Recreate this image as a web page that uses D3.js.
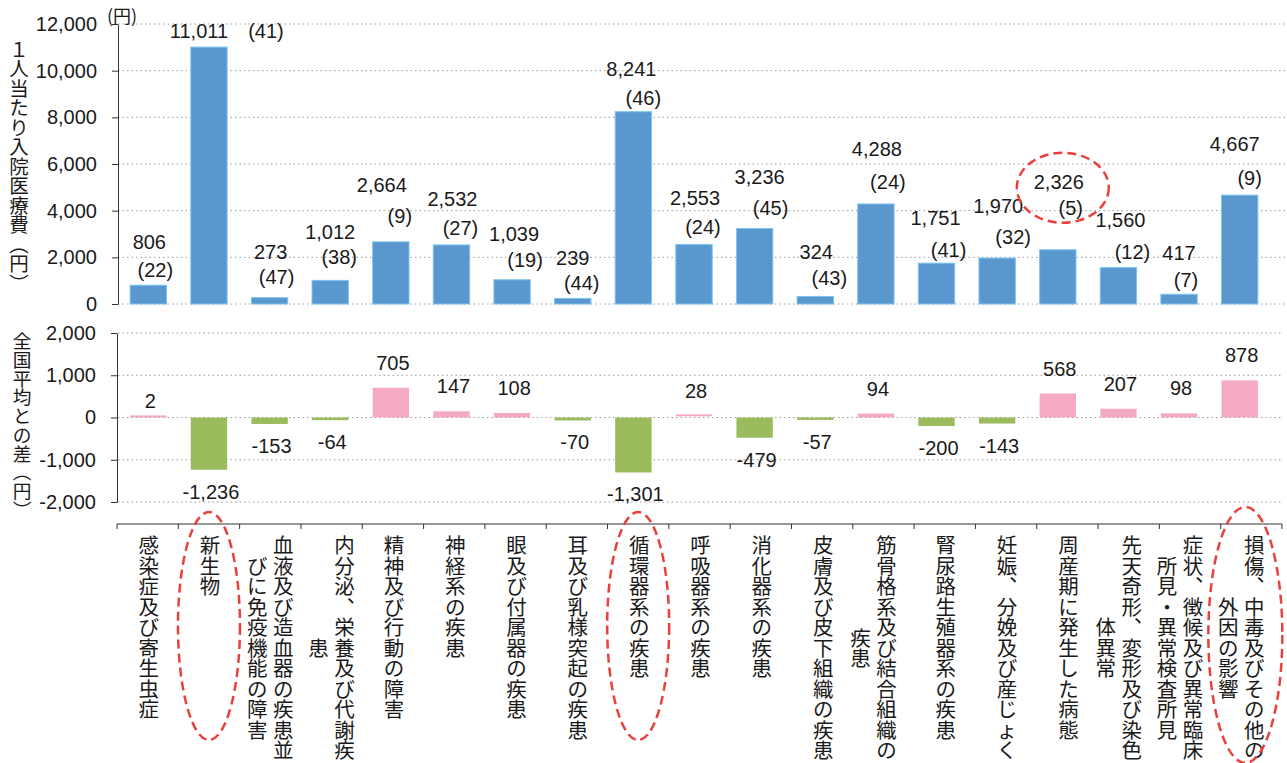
<!DOCTYPE html>
<html>
<head>
<meta charset="utf-8">
<script src="https://cdn.jsdelivr.net/npm/d3@7"></script>
<style>
	body { margin: 0; background: #fff; }
	text { font-family: "Liberation Sans", Arial, sans-serif; fill: #1a1a1a; }
	.jp text, text.jp { font-family: "Noto Sans CJK JP", sans-serif; }
</style>
</head>
<body>
<svg id="chart" width="1287" height="763"></svg>
<script>
var categories = [
	'感染症及び寄生虫症', '新生物', '血液及び造血器の疾患並びに免疫機能の障害',
	'内分泌、栄養及び代謝疾患', '精神及び行動の障害', '神経系の疾患', '眼及び付属器の疾患',
	'耳及び乳様突起の疾患', '循環器系の疾患', '呼吸器系の疾患', '消化器系の疾患',
	'皮膚及び皮下組織の疾患', '筋骨格系及び結合組織の疾患', '腎尿路生殖器系の疾患',
	'妊娠、分娩及び産じょく', '周産期に発生した病態', '先天奇形、変形及び染色体異常',
	'症状、徴候及び異常臨床所見・異常検査所見', '損傷、中毒及びその他の外因の影響'
];
var costPerPerson = [806, 11011, 273, 1012, 2664, 2532, 1039, 239, 8241, 2553, 3236, 324, 4288, 1751, 1970, 2326, 1560, 417, 4667];
var ranks = [22, 41, 47, 38, 9, 27, 19, 44, 46, 24, 45, 43, 24, 41, 32, 5, 12, 7, 9];
var diffFromNational = [2, -1236, -153, -64, 705, 147, 108, -70, -1301, 28, -479, -57, 94, -200, -143, 568, 207, 98, 878];
var topTicks = [0, 2000, 4000, 6000, 8000, 10000, 12000];
var bottomTicks = [-2000, -1000, 0, 1000, 2000];
var circledCategories = ['新生物', '循環器系の疾患', '損傷、中毒及びその他の外因の影響'];
var circledBar = '周産期に発生した病態';

// label nudges relative to bar top: [value dx, value dy, rank dx, rank dy]
var labelNudge = [
	[1,-43,7,-15], [-10,-16,57,-16], [1,-46,7,-21], [0,-48,9,-23], [-9,-57,9,-26],
	[1,-46,9,-17], [2,-46,13,-20], [0,-40,9,-15], [-2,-43,10,-14], [1,-46,9,-17],
	[5,-51,16,-20], [1,-44,14,-18], [1,-55,12,-22], [-1,-45,12,-13], [1,-52,16,-21],
	[1,-68,13,-42], [2,-48,14,-16], [0,-41,7,-14], [-5,-51,10,-17]
];

var svg = d3.select('#chart');
var fmt = function(v) { return d3.format(',')(v).replace('\u2212', '-'); };
var red = '#f03a30';

var xBar = d3.scaleBand().domain(categories).range([118, 1270]).paddingInner(0.4).paddingOuter(0.2);
var xCat = d3.scaleBand().domain(categories).range([117, 1282]);
var yTop = d3.scaleLinear().domain([0, 12000]).range([304, 24]);
var yBot = d3.scaleLinear().domain([-2000, 2000]).range([502, 333]);

// vertical (tategaki) text: one <text> per column, one tspan per glyph
var verticalForms = { '、': '\uFE11', '（': '\uFE35', '）': '\uFE36' };
function vtext(g, str, x, y, size) {
	var t = g.append('text')
		.attr('text-anchor', 'middle').attr('dominant-baseline', 'central')
		.style('font-size', size + 'px');
	Array.from(str).forEach(function(ch, k) {
		t.append('tspan')
			.attr('x', x).attr('y', y + (k + 0.5) * size)
			.text(verticalForms[ch] || ch);
	});
}

// gridlines
svg.append('g').selectAll('line').data(topTicks).enter().append('line')
	.attr('x1', 118).attr('x2', 1285)
	.attr('y1', function(d) { return yTop(d); }).attr('y2', function(d) { return yTop(d); })
	.attr('stroke', '#9a9a9a').attr('stroke-width', 1).attr('stroke-dasharray', '1.5,3');
svg.append('g').selectAll('line').data(bottomTicks).enter().append('line')
	.attr('x1', 118).attr('x2', 1282)
	.attr('y1', function(d) { return yBot(d); }).attr('y2', function(d) { return yBot(d); })
	.attr('stroke', '#9a9a9a').attr('stroke-width', 1).attr('stroke-dasharray', '1.5,3');

// top axis
var axTop = svg.append('g').attr('transform', 'translate(118,0)')
	.call(d3.axisLeft(yTop).tickValues(topTicks).tickFormat(fmt).tickSize(6).tickSizeOuter(0).tickPadding(15));
axTop.selectAll('text').style('font-size', '20px').attr('fill', '#1a1a1a');
axTop.selectAll('line, path').attr('stroke', '#333');

var axBot = svg.append('g').attr('transform', 'translate(117,0)')
	.call(d3.axisLeft(yBot).tickValues(bottomTicks).tickFormat(fmt).tickSize(6).tickSizeOuter(0).tickPadding(15));
axBot.selectAll('text').style('font-size', '20px')
	.attr('fill', function(d) { return d < 0 ? red : '#1a1a1a'; });
axBot.selectAll('line, path').attr('stroke', '#333');

svg.append('text').attr('class', 'jp').attr('x', 122).attr('y', 23)
	.attr('text-anchor', 'middle').style('font-size', '18px').text('(円)');

// top bars
svg.append('g').selectAll('rect').data(costPerPerson).enter().append('rect')
	.attr('x', function(d, i) { return xBar(categories[i]); })
	.attr('y', function(d) { return yTop(d); })
	.attr('width', xBar.bandwidth())
	.attr('height', function(d) { return yTop(0) - yTop(d); })
	.attr('fill', '#5b97cf').attr('stroke', '#7cc6ee').attr('stroke-width', 1);

var topLabels = svg.append('g').style('font-size', '20px');
costPerPerson.forEach(function(v, i) {
	var cx = xBar(categories[i]) + xBar.bandwidth() / 2, top = yTop(v), n = labelNudge[i];
	topLabels.append('text').attr('x', cx + n[0]).attr('y', top + n[1])
		.attr('text-anchor', 'middle').attr('dominant-baseline', 'central').text(fmt(v));
	topLabels.append('text').attr('x', cx + n[2]).attr('y', top + n[3])
		.attr('text-anchor', 'middle').attr('dominant-baseline', 'central').text('(' + ranks[i] + ')');
});

// bottom bars
svg.append('g').selectAll('rect').data(diffFromNational).enter().append('rect')
	.attr('x', function(d, i) { return xBar(categories[i]); })
	.attr('y', function(d) { return d >= 0 ? yBot(d) - (Math.abs(yBot(d) - yBot(0)) < 2 ? 2 : 0) : yBot(0); })
	.attr('width', xBar.bandwidth())
	.attr('height', function(d) { return Math.max(2, Math.abs(yBot(d) - yBot(0))); })
	.attr('fill', function(d) { return d >= 0 ? '#f5aac3' : '#9cbb5c'; });

svg.append('g').style('font-size', '20px').selectAll('text').data(diffFromNational).enter().append('text')
	.attr('x', function(d, i) { return xBar(categories[i]) + xBar.bandwidth() / 2 + 2; })
	.attr('y', function(d) { return d >= 0 ? yBot(d) - (d < 10 ? 16 : 25) : yBot(d) + 22; })
	.attr('text-anchor', 'middle').attr('dominant-baseline', 'central')
	.attr('fill', function(d) { return d < 0 ? red : '#1a1a1a'; })
	.text(function(d) { return fmt(d); });

// category axis
var catY = 524;
svg.append('line').attr('x1', 117).attr('x2', 1282).attr('y1', catY).attr('y2', catY)
	.attr('stroke', '#333').attr('stroke-width', 1.2);
var bounds = categories.map(function(c) { return xCat(c); }).concat([xCat.range()[1]]);
svg.append('g').selectAll('line').data(bounds).enter().append('line')
	.attr('x1', function(d) { return d; }).attr('x2', function(d) { return d; })
	.attr('y1', catY).attr('y2', catY + 5).attr('stroke', '#333');

var fs = 20.5, colGap = 26, labelTop = 534;
var catLabels = svg.append('g').attr('class', 'jp');
categories.forEach(function(c, i) {
	var lines = c.length > 11 ? [c.slice(0, 11), c.slice(11)] : [c];
	var cx = xCat(c) + xCat.bandwidth() / 2;
	var shift = lines.length === 1 ? 1 : (i < 4 ? 13 : 3);
	var maxLen = lines[0].length;
	lines.forEach(function(line, j) {
		vtext(catLabels, line, cx + shift - j * colGap, labelTop + (maxLen - line.length) / 2 * fs, fs);
	});
});

// y titles
var titles = svg.append('g').attr('class', 'jp');
vtext(titles, '１人当たり入院医療費（円）', 19, 38, 19.5);
vtext(titles, '全国平均との差（円）', 22, 330, 18.7);

// red dashed annotations
var ann = svg.append('g').attr('fill', 'none').attr('stroke', '#e8413c')
	.attr('stroke-width', 2.5).attr('stroke-dasharray', '9,5');
circledCategories.forEach(function(c) {
	var last = c === categories[categories.length - 1];
	ann.append('ellipse')
		.attr('cx', xCat(c) + xCat.bandwidth() / 2 + (last ? -6 : 0))
		.attr('cy', last ? 635 : 626)
		.attr('rx', last ? 37 : 31).attr('ry', last ? 128 : 114);
});
var bi = categories.indexOf(circledBar);
ann.append('ellipse')
	.attr('cx', xBar(circledBar) + xBar.bandwidth() / 2 + 5)
	.attr('cy', yTop(costPerPerson[bi]) - 62)
	.attr('rx', 46).attr('ry', 35);
</script>
</body>
</html>
